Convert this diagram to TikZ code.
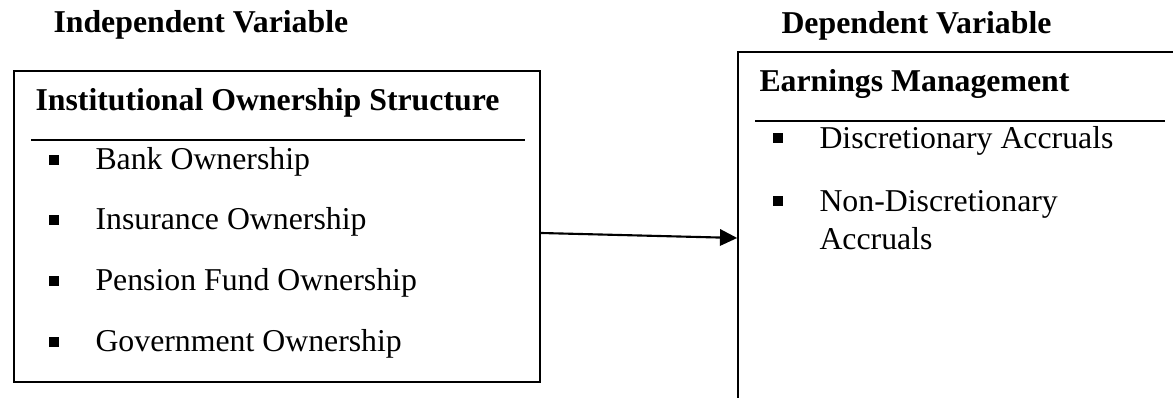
\documentclass[tikz,border=0pt]{standalone}
\usepackage{fontspec}
\setmainfont{Liberation Serif}
\usetikzlibrary{arrows.meta,calc}

\begin{document}
\begin{tikzpicture}[x=0.3775pt,y=-0.3775pt,
    every node/.style={inner sep=0pt,font=\fontsize{12}{14}\selectfont},
    heading/.style={anchor=base west,font=\fontsize{12}{14}\selectfont\bfseries},
    item/.style={anchor=base west},
    bullet/.style={fill=black,minimum size=3.8pt,inner sep=0pt},
    varbox/.style={draw,line width=0.6pt},
    rule/.style={line width=0.8pt},
    flow/.style={line width=0.8pt,-{Triangle[length=6.5pt,width=6.2pt]}}]
    \useasboundingbox (0,0) rectangle (1173,398);
    \clip (0,0) rectangle (1173,398);
    \node[heading] (ivhead) at (53,33) {Independent Variable};
    \node[heading] (dvhead) at (781,34) {Dependent Variable};
    \node[varbox,minimum width=526*0.3775pt,minimum height=311*0.3775pt] (iv) at (277,226.5) {};
    \node[varbox,minimum width=462*0.3775pt,minimum height=378*0.3775pt] (dv) at (969,241) {};
    \node[heading] (ivtitle) at (35,111) {Institutional Ownership Structure};
    \node[heading] (dvtitle) at (759,92) {Earnings Management};
    \draw[rule] (31,140) -- (525,140);
    \draw[rule] (755,121) -- (1165,121);
    \foreach \y/\txt [count=\i] in {170/Bank Ownership,230/Insurance Ownership,
        291/Pension Fund Ownership,352/Government Ownership} {
        \node[bullet] (ivb\i) at (54,\y-10) {};
        \node[item] (ivi\i) at (95,\y) {\txt};
    }
    \node[bullet] (dvb1) at (778,149-11) {};
    \node[item] (dvi1) at (819,149) {Discretionary Accruals};
    \node[bullet] (dvb2) at (778,212-11) {};
    \node[item] (dvi2) at (819,212) {Non-Discretionary};
    \node[item] (dvi3) at (819,250) {Accruals};
    \draw[flow] ($(iv.east)+(0,6.5)$) -- (dv.north west |- 0,238);
\end{tikzpicture}
\end{document}
